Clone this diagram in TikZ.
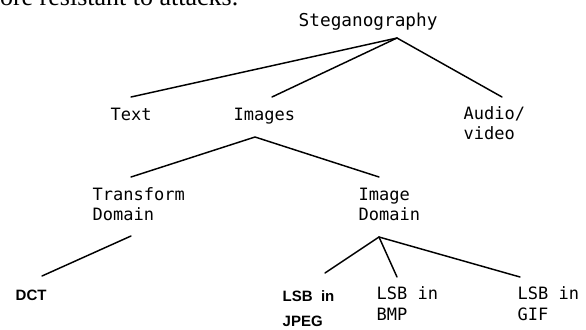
\documentclass[tikz,border=0pt]{standalone}
\usepackage{fontspec}
\setmainfont{Liberation Serif}
\newfontfamily\monofont{DejaVu Sans Mono}
\newfontfamily\arialfont{Liberation Sans}
\tikzset{
	lbl/.style={anchor=base west, inner sep=0pt, align=left,
		font=\monofont\fontsize{12.75}{14.8}\selectfont},
	bold lbl/.style={anchor=base west, inner sep=0pt, align=left,
		font=\arialfont\bfseries\fontsize{11.25}{18.5}\selectfont},
}
\begin{document}
\begin{tikzpicture}[x=0.75pt, y=-0.75pt, line join=round, line cap=round, line width=1.1pt]
		\useasboundingbox (0,0) rectangle (586,329);
		% cut-off line of the page above
		\node[anchor=base east, inner sep=0pt, font=\fontsize{19.5}{20}\selectfont] (P) at (239,5) {more resistant to attacks.};
		% labels (base = baseline of last line)
		\node[lbl, font=\monofont\fontsize{13.3}{15}\selectfont] (S) at (298,26) {Steganography};
		\node[lbl] (T) at (110,120) {Text};
		\node[lbl] (I) at (233,120) {Images};
		\node[lbl] (V) at (463,139.5) {Audio/\\video};
		\node[lbl] (TD) at (92,220) {Transform\\Domain};
		\node[lbl] (ID) at (358,220) {Image\\Domain};
		\node[bold lbl] (D) at (15,300) {DCT};
		\node[bold lbl] (J) at (282,326) {LSB\ \ in\\JPEG};
		\node[lbl, font=\monofont\fontsize{12.75}{15.4}\selectfont] (B) at (376,320) {LSB in\\BMP};
		\node[lbl, font=\monofont\fontsize{12.75}{15.4}\selectfont] (G) at (517,320) {LSB in\\GIF};
		% line ends
		\path 
			(397,38) coordinate (S0)
			(131,97) coordinate (T0)
			(272,97) coordinate (I0)
			(502,97) coordinate (V0)
			(255,137) coordinate (I1)
			(131,177) coordinate (TD0)
			(379,177) coordinate (ID0)
			(131,236) coordinate (TD1)
			(42,276) coordinate (D0)
			(379,237) coordinate (ID1)
			(325,273) coordinate (J0)
			(397,277) coordinate (B0)
			(520,277) coordinate (G0)
		;
		\foreach \d in {T,I,V}{
			\draw (S0)--(\d0);
		}
		\draw (I1)--(TD0) (I1)--(ID0) (TD1)--(D0);
		\foreach \d in {J,B,G}{
			\draw (ID1)--(\d0);
		}
\end{tikzpicture}
\end{document}
